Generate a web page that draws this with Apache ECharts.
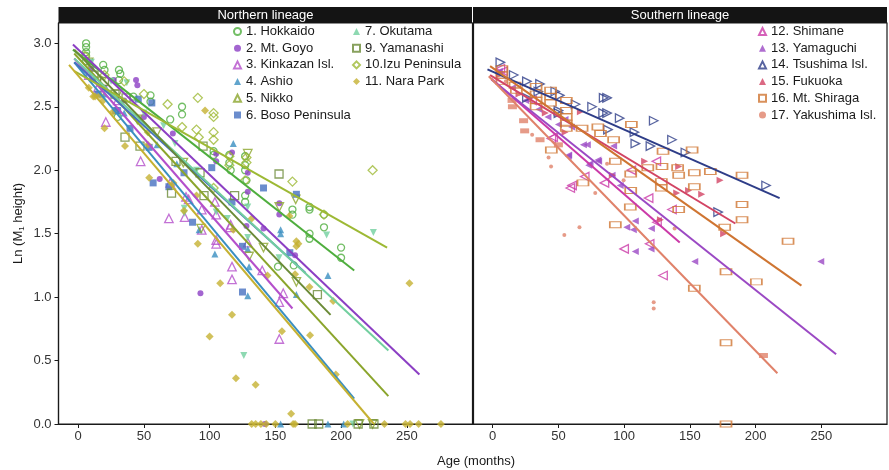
<!DOCTYPE html>
<html><head><meta charset="utf-8">
<script src="https://cdn.jsdelivr.net/npm/echarts@6/dist/echarts.min.js"></script>
<style>html,body{margin:0;padding:0;background:#fff}#chart{width:889px;height:470px}</style>
</head><body><div id="chart"></div>
<script>
// ---- Observations: [age in months, ln(M1 height)] ----
const hokkaido = [[6,3.0],[6,2.97],[6,2.93],[6,2.9],[6,2.86],[19,2.83],[20,2.79],[31,2.79],[32,2.76],[31,2.71],[42,2.58],[30,2.42],[55,2.59],[55,2.54],[79,2.5],[79,2.44],[70,2.4],[103,2.15],[103,2.12],[115,2.12],[115,2.06],[116,2.0],[127,2.11],[127,2.04],[127,2.0],[128,1.92],[127,1.8],[127,1.75],[152,1.24],[163,1.69],[163,1.65],[176,1.71],[176,1.69],[187,1.65],[187,1.55],[176,1.5],[176,1.46],[200,1.39],[200,1.31],[164,1.25]];
const mtGoyo = [[44,2.71],[45,2.67],[27,2.71],[50,2.42],[72,2.29],[105,2.13],[105,2.07],[117,2.14],[62,1.93],[129,1.98],[129,1.83],[128,1.56],[141,1.54],[153,1.74],[153,1.65],[165,1.33],[93,1.03],[142,0.0],[10,2.8],[20,2.65],[35,2.55]];
const kinkazan = [[8,2.75],[15,2.65],[21,2.38],[30,2.55],[47.5,2.07],[69,1.62],[70,1.9],[81,1.63],[82,1.79],[84,1.77],[94,1.69],[94,1.53],[105,1.65],[105,1.45],[105,1.42],[104,1.75],[116,1.57],[115.5,1.55],[117,1.24],[117,1.14],[129,1.43],[140,1.21],[156,1.03],[153,0.96],[153,0.67]];
const ashio = [[20,2.6],[35,2.45],[60,2.2],[75,2.05],[118,2.21],[154,1.53],[154,1.5],[104,1.34],[130,1.24],[129,1.38],[129,1.01],[166,1.02],[190,1.17],[92,1.53],[154,0],[190,0],[202,0]];
const nikko = [[8,2.85],[15,2.7],[30,2.6],[45,2.4],[60,2.3],[80,2.06],[93.5,1.54],[129,2.13],[130,1.32],[141,1.39],[153,1.71],[165.5,1.77],[166,1.12],[214,0],[224,0]];
const boso = [[15,2.6],[30,2.47],[28.5,2.47],[39.4,2.33],[45.7,2.56],[56,2.53],[54,2.18],[57,1.9],[69,1.87],[80.5,1.98],[87,1.59],[101.6,2.02],[117,1.75],[125,1.4],[141,1.86],[161,1.35],[125,1.04],[166,1.81]];
const okutama = [[10,2.85],[25,2.7],[37,2.69],[50,2.45],[65,2.35],[73.6,2.21],[80.7,1.7],[80.7,1.66],[90,2.0],[105,1.67],[113.5,1.62],[129,1.71],[129,1.47],[152.8,1.31],[189,1.49],[224.6,1.51],[126,0.54],[209,0]];
const yamanashi = [[12,2.75],[20,2.7],[28,2.6],[35.6,2.26],[36.4,2.57],[47,2.19],[71,1.82],[74.4,2.07],[92.7,1.98],[95,2.19],[95.7,1.8],[119,1.8],[152.8,1.97],[182,1.02],[178,0],[183,0],[213,0],[225,0]];
const izu = [[5,2.9],[20,2.75],[35,2.7],[50,2.6],[68,2.52],[79,2.34],[91,2.57],[90,2.32],[91.7,2.26],[103,2.45],[103,2.42],[103,2.3],[103,2.24],[103,1.86],[115,2.11],[115,2.04],[127,1.92],[128,2.06],[128,2.1],[163,1.91],[187,1.65],[224,2.0]];
const naraPark = [[8,2.65],[11.5,2.58],[12.8,2.58],[16.6,2.59],[19,2.55],[20,2.33],[26.5,2.46],[35.6,2.19],[53,2.3],[53,2.2],[54,1.94],[72.4,1.9],[80.5,1.68],[90,1.8],[91,1.42],[96.5,2.47],[108,1.11],[117,0.86],[118,1.53],[132,1.62],[144,1.17],[160.7,1.64],[166,1.44],[167.5,1.42],[166,1.4],[165,1.18],[176,1.08],[194,0.97],[252,1.11],[100,0.69],[120,0.36],[135,0.31],[155,0.73],[176.4,0.7],[196,0.39],[162,0.08],[132,0],[135,0],[139,0],[143,0],[150,0],[163.5,0],[165,0],[205,0],[233,0],[249,0],[252.5,0],[259,0],[276,0]];

const shimane = [[5.8,2.8],[7.8,2.78],[30,2.55],[44.6,2.25],[46,2.26],[59,1.86],[60.4,1.88],[70,1.95],[85,1.9],[100,1.38],[105.5,2.0],[118.6,1.78],[119.4,1.42],[124.5,2.07],[125,1.59],[129.6,1.17],[136.4,1.69]];
const yamaguchi = [[5,2.78],[15,2.65],[25,2.55],[35,2.48],[42,2.42],[50,2.36],[55,2.4],[60,2.34],[57.5,2.11],[57.8,2.12],[69,2.2],[72,2.2],[73,2.04],[74,2.05],[80,2.08],[80.6,2.07],[90.8,1.96],[92,2.19],[97,1.88],[102,1.55],[107,1.53],[108.5,1.6],[108.5,1.36],[120.7,1.54],[120.5,1.38],[153.7,1.28],[249.6,1.28]];
const tsushima = [[5.8,2.85],[16,2.75],[26,2.7],[26,2.57],[34.7,2.62],[36,2.68],[47.6,2.62],[50,2.47],[50,2.45],[51,2.59],[63,2.52],[75.6,2.5],[84.4,2.57],[87,2.57],[84,2.45],[87,2.45],[87.7,2.32],[96.6,2.41],[107.8,2.3],[108.5,2.21],[120,2.19],[122.5,2.39],[136.4,2.24],[146.6,2.14],[171.5,1.67],[208,1.88]];
const fukuoka = [[5,2.75],[20,2.6],[40,2.45],[55,2.3],[66.7,2.46],[91,1.96],[115.6,2.07],[127.6,1.61],[140,1.82],[141.5,2.03],[149,1.84],[159,1.81],[173,1.92],[175.7,1.5]];
const mtShiraga = [[7,2.8],[7,2.75],[7,2.7],[17,2.67],[18,2.63],[33,2.66],[33,2.6],[33,2.55],[33,2.5],[44,2.63],[44,2.58],[44,2.53],[44.6,2.16],[56,2.55],[56,2.47],[56,2.42],[56,2.37],[56,2.33],[68,2.33],[68.7,1.9],[80,2.34],[82,2.29],[92,2.24],[93.3,2.07],[93.3,1.57],[104.7,1.71],[105,1.84],[105,1.97],[105.5,2.36],[118,2.02],[128.8,2.03],[128.3,1.91],[128.3,1.86],[129.6,2.15],[140.7,2.02],[141.5,1.96],[141.5,1.69],[151.7,2.16],[153.4,1.98],[153.4,1.87],[153.4,1.07],[165.6,1.99],[176.5,1.55],[177.5,1.2],[177.5,0.64],[177.5,0],[189.7,1.96],[189.7,1.73],[189.7,1.61],[200.6,1.12],[224.7,1.44]];
const yakushima = [[5,2.75],[10,2.7],[20,2.6],[30,2.28],[42.5,2.1],[44.4,2.03],[54.5,1.49],[66,1.55],[78,1.82],[87,2.05],[99.6,1.92],[122.5,0.96],[122.5,0.91],[138.4,1.54]];
// overlapping Yakushima records that merge into small blocks
const yakushimaStacked = [[14.7,2.55],[15,2.5],[23.5,2.39],[24.3,2.31],[36,2.24],[50,2.2],[206,0.54]];

// ---- Fitted regression lines: [start, end] ----
const fitHokkaido = [[-4,2.95],[210,1.21]];
const fitMtGoyo = [[-4,2.99],[259.6,0.39]];
const fitKinkazan = [[-3,2.88],[163,0.91]];
const fitAshio = [[-3,2.85],[210,0.2]];
const fitNikko = [[-3,2.92],[236,0.22]];
const fitBoso = [[-3,2.85],[173,1.19]];
const fitOkutama = [[-3,2.88],[236,0.58]];
const fitYamanashi = [[-3,2.95],[192,0.86]];
const fitIzu = [[-3,2.78],[235,1.39]];
const fitNaraPark = [[-7,2.83],[225,0]];
const fitShimane = [[-1,2.72],[142.3,1.43]];
const fitYamaguchi = [[-1,2.715],[261.3,0.55]];
const fitTsushima = [[-4,2.795],[218.3,1.78]];
const fitFukuoka = [[-2,2.75],[184.6,1.58]];
const fitMtShiraga = [[-2,2.82],[234.9,1.09]];
const fitYakushima = [[-3,2.74],[216.6,0.40]];

// ---- Axis ticks and panel titles ----
const xTicks = [0, 50, 100, 150, 200, 250];
const yTicks = [0.0, 0.5, 1.0, 1.5, 2.0, 2.5, 3.0];
const panelTitles = ['Northern lineage', 'Southern lineage'];

// ---- Population definitions (panel, marker, colour) ----
const populations = [
  {name:'1. Hokkaido', data:hokkaido, fit:fitHokkaido, panel:0, color:'#4fae3e', symbol:'circle', size:7, hollow:true},
  {name:'2. Mt. Goyo', data:mtGoyo, fit:fitMtGoyo, panel:0, color:'#8c3fc4', symbol:'circle', size:6},
  {name:'3. Kinkazan Isl.', data:kinkazan, fit:fitKinkazan, panel:0, color:'#b44fcb', symbol:'triangle', size:8.5, hollow:true},
  {name:'4. Ashio', data:ashio, fit:fitAshio, panel:0, color:'#3a8fc1', symbol:'triangle', size:7},
  {name:'5. Nikko', data:nikko, fit:fitNikko, panel:0, color:'#8ba52c', symbol:'triangle', size:8.5, hollow:true, rotate:180},
  {name:'6. Boso Peninsula', data:boso, fit:fitBoso, panel:0, color:'#4670c0', symbol:'rect', size:7},
  {name:'7. Okutama', data:okutama, fit:fitOkutama, panel:0, color:'#72cf9f', symbol:'triangle', size:7, rotate:180},
  {name:'9. Yamanashi', data:yamanashi, fit:fitYamanashi, panel:0, color:'#6a8a36', symbol:'rect', size:8, hollow:true},
  {name:'10.Izu Peninsula', data:izu, fit:fitIzu, panel:0, color:'#9db934', symbol:'diamond', size:9, hollow:true},
  {name:'11. Nara Park', data:naraPark, fit:fitNaraPark, panel:0, color:'#c5b132', symbol:'diamond', size:8},
  {name:'12. Shimane', data:shimane, fit:fitShimane, panel:1, color:'#cb3aa8', symbol:'triangle', size:8.5, hollow:true, rotate:90},
  {name:'13. Yamaguchi', data:yamaguchi, fit:fitYamaguchi, panel:1, color:'#9b49c4', symbol:'triangle', size:7, rotate:90},
  {name:'14. Tsushima Isl.', data:tsushima, fit:fitTsushima, panel:1, color:'#2e3d88', symbol:'triangle', size:8.5, hollow:true, rotate:-90},
  {name:'15. Fukuoka', data:fukuoka, fit:fitFukuoka, panel:1, color:'#d24464', symbol:'triangle', size:7, rotate:-90},
  {name:'16. Mt. Shiraga', data:mtShiraga, fit:fitMtShiraga, panel:1, color:'#cf7532', symbol:'rect', size:[11,6], hollow:true},
  {name:'17. Yakushima Isl.', data:yakushima, fit:fitYakushima, panel:1, color:'#e0826a', symbol:'circle', size:4}
];

const FONT = 'Liberation Sans, Arial, Helvetica, sans-serif';
const gridTop = 23, gridH = 401, gridW = 414;
const gridLefts = [58.5, 473];

const series = [];
populations.forEach(p => {
  series.push({
    name: p.name, type: 'scatter', xAxisIndex: p.panel, yAxisIndex: p.panel,
    data: p.data, symbol: p.symbol, symbolSize: p.size, symbolRotate: p.rotate || 0,
    itemStyle: p.hollow ? {color: 'rgba(255,255,255,0)', borderColor: p.color, borderWidth: 1.3}
                        : {color: p.color},
    emphasis: {disabled: true}, z: 2
  });
});
series.push({
  name: 'yakushima-stacked', type: 'scatter', xAxisIndex: 1, yAxisIndex: 1,
  data: yakushimaStacked, symbol: 'rect', symbolSize: [9, 5],
  itemStyle: {color: '#e0826a'}, emphasis: {disabled: true}, z: 2
});
populations.forEach(p => {
  series.push({
    name: p.name + ' fit', type: 'line', xAxisIndex: p.panel, yAxisIndex: p.panel,
    data: p.fit, showSymbol: false, symbol: 'none',
    lineStyle: {color: p.color, width: 2}, emphasis: {disabled: true}, z: 3, clip: true
  });
});

function xAxisFor(i) {
  return {
    gridIndex: i, type: 'value', min: -15, max: 300,
    axisLine: {show: true, onZero: false, lineStyle: {color: '#1a1a1a', width: 1.2}},
    axisTick: {show: true, length: 4, customValues: xTicks, lineStyle: {color: '#1a1a1a'}},
    axisLabel: {fontFamily: FONT, fontSize: 13, color: '#333', margin: 6, customValues: xTicks,
      formatter: v => String(v)},
    splitLine: {show: false}
  };
}
function yAxisFor(i) {
  const ax = {
    gridIndex: i, type: 'value', min: 0, max: 3.16,
    axisLine: {show: true, onZero: false, lineStyle: {color: '#1a1a1a', width: 1.2}},
    axisTick: {show: i === 0, length: 4, customValues: yTicks, lineStyle: {color: '#1a1a1a'}},
    axisLabel: {show: i === 0, fontFamily: FONT, fontSize: 13, color: '#333', margin: 7, customValues: yTicks,
      formatter: v => Number(v).toFixed(1)},
    splitLine: {show: false}
  };
  if (i === 0) {
    ax.name = 'Ln (M{sub|1} height)';
    ax.nameLocation = 'middle';
    ax.nameGap = 33;
    ax.nameTextStyle = {fontFamily: FONT, fontSize: 13, color: '#1a1a1a',
      rich: {sub: {fontFamily: FONT, fontSize: 8, color: '#1a1a1a', verticalAlign: 'bottom', padding: [6, 0, 0, 0]}}};
  }
  return ax;
}

const legendBase = {
  orient: 'vertical', selectedMode: false, itemWidth: 7, itemHeight: 7, itemGap: 3.7,
  textStyle: {fontFamily: FONT, fontSize: 13, color: '#1a1a1a'}, padding: 0
};

const graphics = [];
panelTitles.forEach((t, i) => {
  graphics.push({type: 'rect', shape: {x: gridLefts[i], y: 7, width: gridW - (i === 0 ? 0.5 : 0), height: 16},
    style: {fill: '#141414'}, z: 10});
  graphics.push({type: 'text', x: gridLefts[i] + gridW / 2, y: 15,
    style: {text: t, fill: '#fff', font: '13px ' + FONT, textAlign: 'center', textVerticalAlign: 'middle'}, z: 11});
});
graphics.push({type: 'text', x: 476, y: 461,
  style: {text: 'Age (months)', fill: '#1a1a1a', font: '13px ' + FONT, textAlign: 'center', textVerticalAlign: 'middle'}});

const chart = echarts.init(document.getElementById('chart'), null, {renderer: 'canvas'});
chart.setOption({
  animation: false,
  backgroundColor: '#fff',
  grid: gridLefts.map(l => ({left: l, top: gridTop, width: gridW, height: gridH, show: true,
    borderColor: '#1a1a1a', borderWidth: 1.2, backgroundColor: '#fff', containLabel: false})),
  xAxis: [xAxisFor(0), xAxisFor(1)],
  yAxis: [yAxisFor(0), yAxisFor(1)],
  legend: [
    Object.assign({}, legendBase, {left: 233, top: 25, data: populations.slice(0, 6).map(p => p.name)}),
    Object.assign({}, legendBase, {left: 352, top: 25, data: populations.slice(6, 10).map(p => p.name)}),
    Object.assign({}, legendBase, {left: 758, top: 25, data: populations.slice(10).map(p => p.name)})
  ],
  series: series,
  graphic: graphics
});
</script></body></html>
